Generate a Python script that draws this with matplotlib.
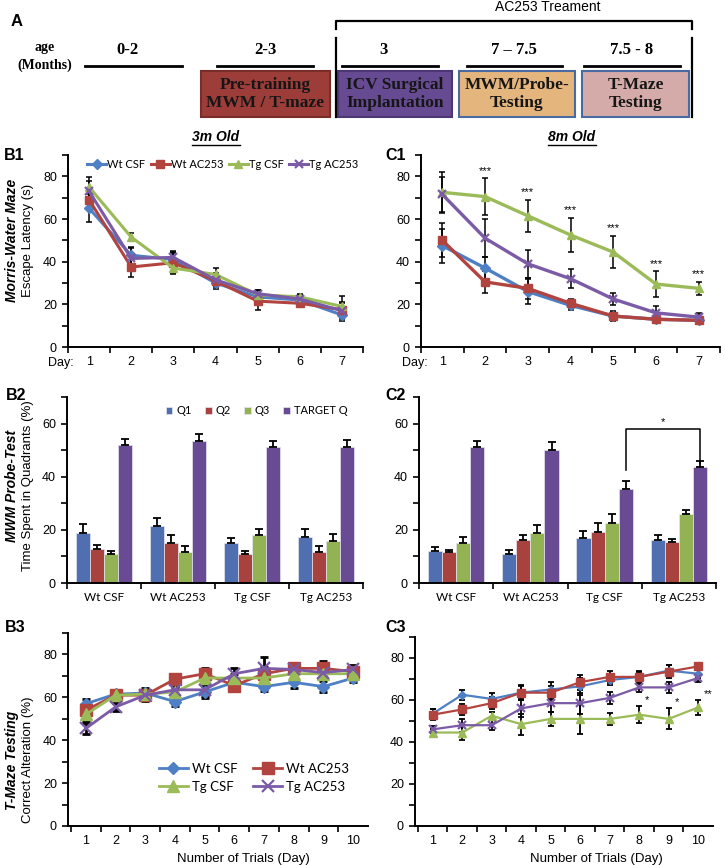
import matplotlib
matplotlib.use("Agg")
import matplotlib.pyplot as plt
from matplotlib.patches import Rectangle
import numpy as np

plt.rcParams['font.family'] = ['Liberation Sans', 'DejaVu Sans']

# ---------------- data ----------------
groups = ['Wt CSF', 'Wt AC253', 'Tg CSF', 'Tg AC253']
quadrants = ['Q1', 'Q2', 'Q3', 'TARGET Q']
days7 = [1, 2, 3, 4, 5, 6, 7]
days10 = [1, 2, 3, 4, 5, 6, 7, 8, 9, 10]

# timeline (panel A)
stage_ages = ['0-2', '2-3', '3', '7 – 7.5', '7.5 - 8']
stage_names = ['', 'Pre-training\nMWM / T-maze', 'ICV Surgical\nImplantation',
               'MWM/Probe-\nTesting', 'T-Maze\nTesting']
stage_colors = [None, '#9c3d39', '#674b92', '#e5b57e', '#d5abaa']
stage_edges = [None, '#7a2c29', '#4e3676', '#4a6aa2', '#4a6aa2']

# B1: Morris water maze, 3 months
b1_wt_csf = [65, 43, 41, 30, 23.5, 22, 15]
b1_wt_csf_err = [6.5, 4, 3, 3, 2, 2, 3]
b1_wt_ac = [69, 37.5, 39.5, 31, 21.5, 20.5, 17.5]
b1_wt_ac_err = [5, 4.5, 5, 3, 4, 1.5, 3]
b1_tg_csf = [75, 51.5, 37, 34, 24.5, 23.5, 19]
b1_tg_csf_err = [4.5, 2, 3, 3, 2, 1.5, 5]
b1_tg_ac = [73, 41.5, 42, 31.5, 25, 22.5, 17]
b1_tg_ac_err = [5, 5, 3, 3, 1.5, 2, 4]

# C1: Morris water maze, 8 months
c1_wt_csf = [47.5, 37, 26, 19.5, 14.5, 13, 12.5]
c1_wt_csf_err = [8, 5, 6, 2, 2, 1.5, 1.5]
c1_wt_ac = [50, 30.5, 27.5, 20.5, 14.5, 13, 12.5]
c1_wt_ac_err = [8, 5, 5, 2, 2.5, 1.5, 1.5]
c1_tg_csf = [72.5, 70.5, 61.5, 52.5, 44.5, 29.5, 27.5]
c1_tg_csf_err = [9.5, 8.5, 7.5, 8, 7.5, 6, 3]
c1_tg_ac = [71.5, 51, 39, 32, 22.5, 16, 14]
c1_tg_ac_err = [8, 9, 6.5, 4.5, 3, 3, 2]
c1_stars = ['', '***', '***', '***', '***', '***', '***']

# B2 / C2: probe test, % time in quadrants
b2_vals = [[19, 21.5, 15, 17.2],
           [12.7, 15.1, 10.9, 11.8],
           [10.9, 11.6, 18.2, 15.7],
           [52, 53.3, 51.3, 51]]
b2_errs = [[3.2, 3, 2, 3],
           [1.6, 2.8, 1.3, 2],
           [1.3, 2.2, 2.2, 2.8],
           [2.3, 2.7, 2.1, 3]]
c2_vals = [[12, 10.8, 17, 16],
           [11.6, 16.2, 19.1, 15.6],
           [15.2, 19, 22.6, 25.8],
           [51.3, 50.1, 35.2, 43.8]]
c2_errs = [[1.5, 1.8, 2.4, 1.9],
           [1, 2, 3.4, 1],
           [2, 3, 3.2, 1.8],
           [2.1, 2.9, 3.2, 2]]

# B3: T-maze, 3 months
b3_wt_csf = [57, 61.5, 62, 58, 62.5, 67, 65, 67, 65, 69]
b3_wt_csf_err = [2, 2, 2.5, 2, 3, 2, 2, 2.5, 2.5, 2]
b3_wt_ac = [54, 61, 61, 68.5, 71, 65.5, 71, 73.5, 73.5, 72]
b3_wt_ac_err = [3, 2, 2.5, 2, 2.5, 1.5, 3, 1.5, 3.5, 2.5]
b3_tg_csf = [52, 61, 61.5, 62.5, 69, 69, 69, 71, 71, 71]
b3_tg_csf_err = [3, 2.5, 2, 2, 2.5, 2, 2, 2, 2, 2]
b3_tg_ac = [45.5, 55.5, 61, 63.5, 63.5, 71, 73.5, 73, 71.5, 73]
b3_tg_ac_err = [2.5, 2, 2, 2, 3, 2.5, 5.5, 2, 3, 2]

# C3: T-maze, 8 months
c3_wt_csf = [53.5, 62.5, 60.5, 63.5, 65, 66.5, 69.5, 71, 74, 72.5]
c3_wt_csf_err = [2, 2.5, 3, 3, 3.5, 4, 2.5, 2.5, 2.5, 2]
c3_wt_ac = [53, 55.5, 58.5, 63.5, 63.5, 68.5, 71, 71, 73.5, 76]
c3_wt_ac_err = [2.5, 2.5, 3, 3.5, 3, 3.5, 3, 3, 3, 1.5]
c3_tg_csf = [44.5, 44.5, 52.5, 48.5, 51, 51, 51, 53, 51, 56.5]
c3_tg_csf_err = [1.5, 3.5, 2, 5, 3.5, 7, 3, 4, 5, 3.5]
c3_tg_ac = [46, 48, 48, 56, 58.5, 58.5, 61, 66, 66, 70.5]
c3_tg_ac_err = [1.5, 3, 2.5, 4, 4, 5, 3, 2, 2.5, 2]
c3_stars = ['', '', '', '', '', '', '', '*', '*', '**']

line_colors = ['#4f7fc4', '#b24440', '#9bbb59', '#7b5aa6']
line_markers = ['D', 's', '^', 'x']
bar_colors = ['#4f6fb0', '#a8423f', '#93b254', '#694b93']

W, H = 725, 865
fig = plt.figure(figsize=(7.25, 8.65), dpi=100)
ov = fig.add_axes([0, 0, 1, 1])
ov.set_xlim(0, W)
ov.set_ylim(H, 0)
ov.axis('off')


def px_axes(left, top, right, bottom):
    return fig.add_axes([left / W, 1 - bottom / H, (right - left) / W, (bottom - top) / H],
                        facecolor='none')


def style_axes(ax, ymax):
    for s in ['top', 'right']:
        ax.spines[s].set_visible(False)
    for s in ['left', 'bottom']:
        ax.spines[s].set_linewidth(1.4)
    ax.set_ylim(0, ymax)
    yt = np.arange(0, ymax + 1, 10)
    ax.set_yticks(yt)
    ax.set_yticklabels([str(v) if v % 20 == 0 else '' for v in yt])
    ax.tick_params(axis='y', direction='out', length=4, width=1.2, labelsize=9, pad=4)
    ax.tick_params(axis='x', which='major', direction='out', length=4, width=1.2, labelbottom=False)
    ax.tick_params(axis='x', which='minor', length=0, labelsize=9, pad=6.5)


def category_x(ax, centers, labels, lo, hi, fontfamily=None):
    ax.set_xlim(lo, hi)
    ax.set_xticks(np.arange(centers[0] - 0.5, centers[-1] + 0.6, 1))
    ax.set_xticks(centers, minor=True)
    ax.set_xticklabels(labels, minor=True)
    if fontfamily:
        for t in ax.get_xticklabels(minor=True):
            t.set_family(fontfamily)
            t.set_fontsize(8.5)


def lines(ax, x, series, errs, ms, lw, elw, cap, labels=None):
    for vals, err in zip(series, errs):
        ax.errorbar(x, vals, yerr=err, fmt='none', ecolor='black', elinewidth=elw,
                    capsize=cap, capthick=elw, zorder=2)
    handles = []
    for i, vals in enumerate(series):
        m = line_markers[i]
        h, = ax.plot(x, vals, color=line_colors[i], marker=m, lw=lw,
                     ms=ms * (0.8 if m == 'D' else 1), mew=1.6 if m == 'x' else 1,
                     zorder=3, label=labels[i] if labels else None)
        handles.append(h)
    return handles


def bars(ax, vals, errs):
    w = 0.19
    x = np.arange(len(groups))
    for i, (v, e) in enumerate(zip(vals, errs)):
        xi = x + (i - 1.5) * w
        ax.bar(xi, v, width=w, color=bar_colors[i], edgecolor='#e6e6ee', linewidth=0.5,
               label=quadrants[i], zorder=2)
        ax.errorbar(xi, v, yerr=[np.zeros(len(e)), e], fmt='none', ecolor='black',
                    elinewidth=1.3, capsize=3, capthick=1.3, zorder=3)
    return w


# ---------------- panel A ----------------
ov.text(17, 21, 'A', fontsize=12, fontweight='bold', ha='center', va='center')
ov.text(548, 7, 'AC253 Treament', fontsize=10, ha='center', va='center')
ov.plot([336, 336, 692, 692], [29, 21, 21, 29], color='black', lw=1.6)
ov.plot([336, 336], [38, 117], color='black', lw=1.6)
ov.plot([692, 692], [38, 117], color='black', lw=1.6)
serif = ['Liberation Serif', 'DejaVu Serif']
ov.text(45, 47, 'age', fontsize=10, fontweight='bold', family=serif, ha='center', va='center')
ov.text(45, 65, '(Months)', fontsize=10, fontweight='bold', family=serif, ha='center', va='center')
age_x = [128, 265, 384, 514, 632]
age_lines = [(85, 182), (217, 313), (342, 438), (467, 562), (584, 680)]
boxes = [None, (201, 330), (338, 452), (459, 575), (582, 689)]
for i, age in enumerate(stage_ages):
    ov.text(age_x[i], 50, age, fontsize=12, fontweight='bold', family=serif,
            ha='center', va='center')
    ov.plot(age_lines[i], [66, 66], color='black', lw=2)
    if boxes[i] is not None:
        x0, x1 = boxes[i]
        ov.add_patch(Rectangle((x0, 71), x1 - x0, 46, facecolor=stage_colors[i],
                               edgecolor=stage_edges[i], lw=1.5))
        ov.text((x0 + x1) / 2, 94, stage_names[i], fontsize=12.5, fontweight='bold',
                family=serif, ha='center', va='center', color='#161616', linespacing=1.2)

# ---------------- titles and labels ----------------
for x, txt in [(216, '3m Old'), (572, '8m Old')]:
    ov.text(x, 137, txt, fontsize=10, fontweight='bold', style='italic', ha='center', va='center')
for x, y, txt in [(14, 155, 'B1'), (396, 155, 'C1'), (16, 395, 'B2'), (396, 396, 'C2'),
                  (15, 627, 'B3'), (396, 627, 'C3')]:
    ov.text(x, y, txt, fontsize=11.5, fontweight='bold', ha='center', va='center')
for y, t1, t2 in [(240, 'Morris-Water Maze', 'Escape Latency (s)'),
                  (486, 'MWM Probe-Test', 'Time Spent in Quadrants (%)'),
                  (760, 'T-Maze Testing', 'Correct Alteration (%)')]:
    ov.text(12, y, t1, fontsize=10, fontweight='bold', style='italic', rotation=90,
            ha='center', va='center')
    ov.text(28, y, t2, fontsize=9.5, rotation=90, ha='center', va='center')

# ---------------- B1 ----------------
ax = px_axes(68, 155, 363, 347)
style_axes(ax, 90)
category_x(ax, days7, [str(d) for d in days7], 0.5, 7.5)
lines(ax, days7, [b1_wt_csf, b1_wt_ac, b1_tg_csf, b1_tg_ac],
      [b1_wt_csf_err, b1_wt_ac_err, b1_tg_csf_err, b1_tg_ac_err], 6, 2.2, 1.1, 2.5, groups)
ax.text(0.33, -16 / 192, 'Day:', transform=ax.get_xaxis_transform(), fontsize=9,
        ha='center', va='center')
ax.legend(loc='center', bbox_to_anchor=(0.525, 0.953), ncol=4, frameon=False,
          prop={'family': ['Lato', 'DejaVu Sans'], 'size': 8}, handlelength=1.7,
          handletextpad=0.1, columnspacing=0.5, borderpad=0, borderaxespad=0)

# ---------------- C1 ----------------
ax = px_axes(421, 155, 720, 347)
style_axes(ax, 90)
category_x(ax, days7, [str(d) for d in days7], 0.5, 7.5)
lines(ax, days7, [c1_wt_csf, c1_wt_ac, c1_tg_csf, c1_tg_ac],
      [c1_wt_csf_err, c1_wt_ac_err, c1_tg_csf_err, c1_tg_ac_err], 6, 2.4, 1.1, 2.5)
ax.text(0.35, -16 / 192, 'Day:', transform=ax.get_xaxis_transform(), fontsize=9,
        ha='center', va='center')
for d, v, e, s in zip(days7, c1_tg_csf, c1_tg_csf_err, c1_stars):
    if s:
        ax.text(d, v + e + 1.2, s, fontsize=8, ha='center', va='bottom')

# ---------------- B2 ----------------
ax = px_axes(67, 397, 363, 583)
style_axes(ax, 70)
category_x(ax, [0, 1, 2, 3], groups, -0.5, 3.5, ['Lato', 'DejaVu Sans'])
bars(ax, b2_vals, b2_errs)
ax.legend(loc='center', bbox_to_anchor=(0.64, 0.925), ncol=4, frameon=False,
          prop={'family': ['Lato', 'DejaVu Sans'], 'size': 8}, handlelength=0.6,
          handleheight=0.6, handletextpad=0.35, columnspacing=1.2, borderpad=0,
          borderaxespad=0)

# ---------------- C2 ----------------
ax = px_axes(419, 397, 716, 583)
style_axes(ax, 70)
category_x(ax, [0, 1, 2, 3], groups, -0.5, 3.5, ['Lato', 'DejaVu Sans'])
w = bars(ax, c2_vals, c2_errs)
xa, xb = 2 + 1.5 * w, 3 + 1.5 * w
top = max(c2_vals[3][2] + c2_errs[3][2], c2_vals[3][3] + c2_errs[3][3]) + 12
ax.plot([xa, xa, xb, xb], [c2_vals[3][2] + 7.5, top, top, c2_vals[3][3] + 1.5],
        color='black', lw=1.1)
ax.text((xa + xb) / 2, top + 0.8, '*', fontsize=8, ha='center', va='bottom')

# ---------------- B3 ----------------
ax = px_axes(68, 633, 368, 826)
style_axes(ax, 90)
category_x(ax, days10, [str(d) for d in days10], 0.4, 10.27)
ax.set_xticks(np.arange(0.5, 10, 1))
hs = lines(ax, days10, [b3_wt_csf, b3_wt_ac, b3_tg_csf, b3_tg_ac],
           [b3_wt_csf_err, b3_wt_ac_err, b3_tg_csf_err, b3_tg_ac_err], 8, 2, 2, 3, groups)
ax.set_xlabel('Number of Trials (Day)', fontsize=9.5, labelpad=1)
ax.xaxis.set_label_coords(0.585, -27 / 193)
order = [0, 2, 1, 3]
ax.legend([hs[i] for i in order], [groups[i] for i in order], loc='center',
          bbox_to_anchor=(0.62, 0.25), ncol=2, frameon=False,
          prop={'family': ['Lato', 'DejaVu Sans'], 'size': 9.5}, handlelength=2.2,
          handletextpad=0.3, columnspacing=1.2, labelspacing=0.45, borderpad=0,
          borderaxespad=0)

# ---------------- C3 ----------------
ax = px_axes(415, 637, 713, 826)
style_axes(ax, 90)
category_x(ax, days10, [str(d) for d in days10], 0.4, 10.22)
ax.set_xticks(np.arange(0.5, 10, 1))
lines(ax, days10, [c3_wt_csf, c3_wt_ac, c3_tg_csf, c3_tg_ac],
      [c3_wt_csf_err, c3_wt_ac_err, c3_tg_csf_err, c3_tg_ac_err], 5.5, 1.6, 1.3, 2.5)
ax.set_xlabel('Number of Trials (Day)', fontsize=9.5, labelpad=1)
ax.xaxis.set_label_coords(0.61, -27 / 189)
for d, v, e, s in zip(days10, c3_tg_csf, c3_tg_csf_err, c3_stars):
    if s:
        ax.text(d + 0.2, v + e + 0.5, s, fontsize=8, ha='left', va='bottom')

# underline the age titles
fig.canvas.draw()
inv = ov.transData.inverted()
for t in ov.texts:
    if t.get_text() in ('3m Old', '8m Old'):
        bb = t.get_window_extent()
        (x0, y0), (x1, _) = inv.transform([(bb.x0, bb.y0), (bb.x1, bb.y1)])
        ov.plot([x0, x1], [y0 + 0.5, y0 + 0.5], color='black', lw=1)

fig.savefig('out.png', dpi=100)
